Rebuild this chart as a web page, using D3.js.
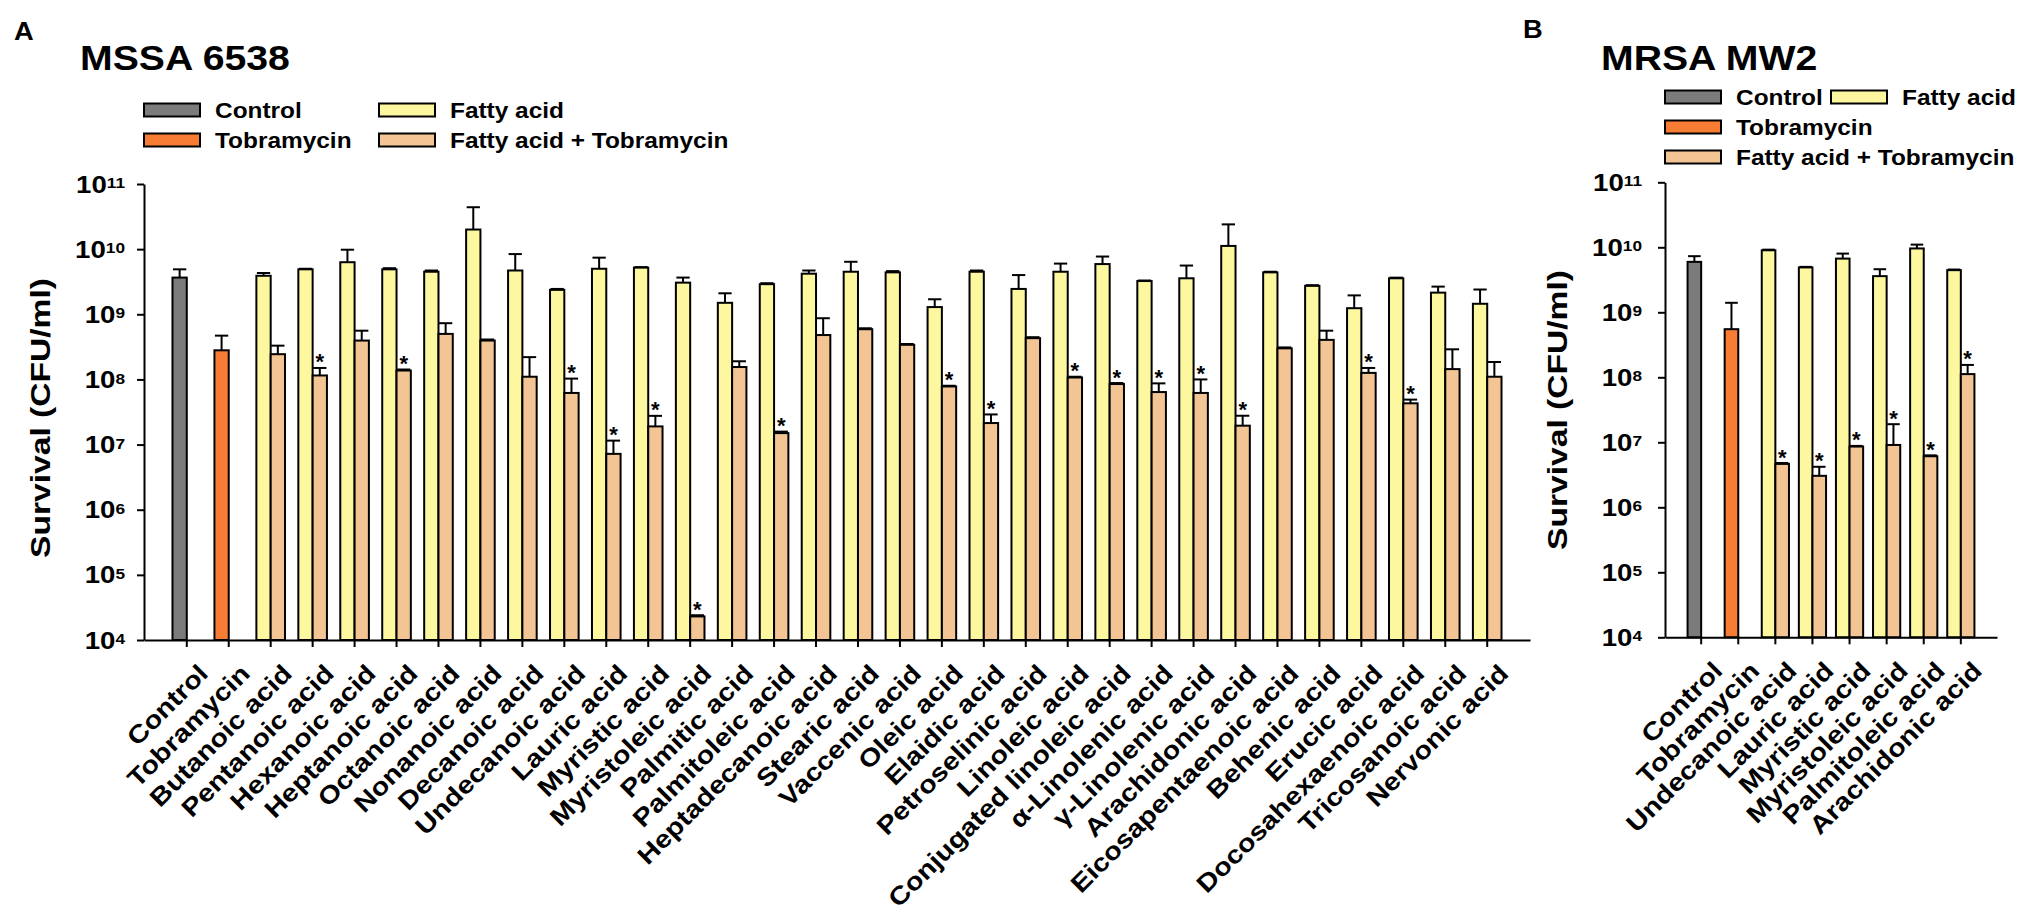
<!DOCTYPE html>
<html><head><meta charset="utf-8">
<script src="https://cdn.jsdelivr.net/npm/d3@7"></script>
<style>
body{margin:0;background:#fff}
svg{display:block}
text{font-family:"Liberation Sans",Arial,Helvetica,sans-serif;font-weight:bold;fill:#000}
</style>
</head><body>
<svg id="chart" width="2033" height="921"></svg>
<script>
// ---------------- DATA ----------------
const singleNames = ["Control", "Tobramycin"];
const legendLabels = ["Control", "Tobramycin", "Fatty acid", "Fatty acid + Tobramycin"];
const tickExponents = [4, 5, 6, 7, 8, 9, 10, 11];

// Panel A : MSSA 6538
const fattyAcidsA = ["Butanoic acid","Pentanoic acid","Hexanoic acid","Heptanoic acid","Octanoic acid",
  "Nonanoic acid","Decanoic acid","Undecanoic acid","Lauric acid","Myristic acid","Myristoleic acid",
  "Palmitic acid","Palmitoleic acid","Heptadecanoic acid","Stearic acid","Vaccenic acid","Oleic acid",
  "Elaidic acid","Petroselinic acid","Linoleic acid","Conjugated linoleic acid","\u03b1-Linolenic acid",
  "\u03b3-Linolenic acid","Arachidonic acid","Eicosapentaenoic acid","Behenic acid","Erucic acid",
  "Docosahexaenoic acid","Tricosanoic acid","Nervonic acid"];
const singleMeanA  = [3.66e9, 2.8e8];
const singleUpperA = [4.9e9, 4.7e8];
const faMeanA  = [3.9e9,4.9e9,6.3e9,4.9e9,4.5e9,2.0e10,4.7e9,2.37e9,5.0e9,5.2e9,3.06e9,
  1.5e9,2.9e9,4.2e9,4.5e9,4.4e9,1.29e9,4.5e9,2.45e9,4.5e9,5.9e9,3.24e9,3.57e9,1.12e10,
  4.4e9,2.73e9,1.24e9,3.57e9,2.15e9,1.45e9];
const faUpperA = [4.3e9,5.0e9,9.8e9,5.1e9,4.7e9,4.4e10,8.4e9,2.45e9,7.4e9,5.3e9,3.66e9,
  2.1e9,3.0e9,4.7e9,6.4e9,4.6e9,1.7e9,4.7e9,4.0e9,6.0e9,7.7e9,3.3e9,5.6e9,2.4e10,
  4.5e9,2.8e9,1.95e9,3.65e9,2.66e9,2.4e9];
const faTobMeanA  = [2.44e8,1.15e8,3.95e8,1.37e8,5.0e8,3.95e8,1.1e8,6.2e7,7.2e6,1.9e7,2.3e4,
  1.55e8,1.5e7,4.8e8,5.9e8,3.4e8,7.8e7,2.14e7,4.3e8,1.07e8,8.5e7,6.4e7,6.2e7,1.95e7,
  3.0e8,4.05e8,1.26e8,4.3e7,1.44e8,1.1e8];
const faTobUpperA = [3.3e8,1.5e8,5.6e8,1.42e8,7.3e8,4.1e8,2.2e8,1.03e8,1.15e7,2.76e7,2.4e4,
  1.9e8,1.58e7,8.7e8,6.1e8,3.5e8,8.0e7,2.9e7,4.45e8,1.1e8,8.8e7,8.7e7,1.0e8,2.77e7,
  3.1e8,5.6e8,1.5e8,4.9e7,2.9e8,1.85e8];
const faTobSigA = [0,1,0,1,0,0,0,1,1,1,1,0,1,0,0,0,1,1,0,1,1,1,1,1,0,0,1,1,0,0];

// Panel B : MRSA MW2
const fattyAcidsB = ["Undecanoic acid","Lauric acid","Myristic acid","Myristoleic acid","Palmitoleic acid","Arachidonic acid"];
const singleMeanB  = [5.97e9, 5.5e8];
const singleUpperB = [7.3e9, 1.4e9];
const faMeanB  = [9.0e9, 4.9e9, 6.7e9, 3.6e9, 9.6e9, 4.45e9];
const faUpperB = [9.2e9, 5.0e9, 8.0e9, 4.6e9, 1.1e10, 4.55e9];
const faTobMeanB  = [4.65e6, 3.05e6, 8.6e6, 9.1e6, 6.1e6, 1.12e8];
const faTobUpperB = [4.8e6, 4.2e6, 8.8e6, 1.9e7, 6.3e6, 1.55e8];
const faTobSigB = [1,1,1,1,1,1];

// ---------------- STYLE ----------------
const COLORS = {control:"#7b7b7b", tob:"#f67d33", fa:"#fdf8a0", faTob:"#f4c594"};
const singleColors = [COLORS.control, COLORS.tob];
const legendColors = [COLORS.control, COLORS.tob, COLORS.fa, COLORS.faTob];

const svg = d3.select("#chart");

function stretchedText(g, x, y, str, size, opts = {}) {
  const sx = opts.sx || 1, rot = opts.rot || 0;
  return g.append("text")
    .attr("transform", `translate(${x},${y}) rotate(${rot}) scale(${sx},1)`)
    .attr("text-anchor", opts.anchor || "start")
    .attr("font-size", size)
    .text(str);
}

function drawPanel(cfg) {
  const g = svg.append("g");
  const cats = singleNames.concat(cfg.fattyAcids);
  const x = d3.scaleBand().domain(cats).range(cfg.xRange).paddingInner(0).paddingOuter(cfg.padOuter);
  const y = d3.scaleLog().domain([1e4, 1e11]).range(cfg.yRange);
  const barW = cfg.barW;
  const center = c => x(c) + x.bandwidth() / 2;
  const base = y(1e4);

  const recs = [];
  singleNames.forEach((c, i) => recs.push({cat:c, slot:0, mean:cfg.singleMean[i], upper:cfg.singleUpper[i], color:singleColors[i], sig:0}));
  cfg.fattyAcids.forEach((c, i) => {
    recs.push({cat:c, slot:0, mean:cfg.faMean[i], upper:cfg.faUpper[i], color:COLORS.fa, sig:0});
    recs.push({cat:c, slot:1, mean:cfg.faTobMean[i], upper:cfg.faTobUpper[i], color:COLORS.faTob, sig:cfg.faTobSig[i]});
  });
  const bx = d => center(d.cat) - barW + d.slot * barW;

  const eb = g.append("g").attr("stroke", "#000").attr("stroke-width", 2).attr("fill", "none");
  recs.forEach(d => {
    const cx = bx(d) + barW / 2;
    eb.append("line").attr("x1", cx).attr("x2", cx).attr("y1", y(d.mean)).attr("y2", y(d.upper));
    eb.append("line").attr("x1", cx - barW / 2 + 0.5).attr("x2", cx + barW / 2 - 0.5).attr("y1", y(d.upper)).attr("y2", y(d.upper));
  });

  g.append("g").selectAll("rect").data(recs).join("rect")
    .attr("x", d => bx(d)).attr("width", barW)
    .attr("y", d => y(d.mean)).attr("height", d => base - y(d.mean))
    .attr("fill", d => d.color).attr("stroke", "#000").attr("stroke-width", 2);

  recs.filter(d => d.sig).forEach(d => {
    g.append("text").attr("x", bx(d) + barW / 2).attr("y", y(d.upper) + 1.5)
      .attr("text-anchor", "middle").attr("font-size", 22).text("*");
  });

  const yAxis = d3.axisLeft(y).tickValues(tickExponents.map(e => Math.pow(10, e)))
    .tickSize(7).tickSizeOuter(0).tickFormat("");
  const ya = g.append("g").attr("transform", `translate(${cfg.xRange[0]},0)`).call(yAxis);
  const xAxis = d3.axisBottom(x).tickSize(7).tickSizeOuter(0).tickFormat("");
  const xa = g.append("g").attr("transform", `translate(0,${base})`).call(xAxis);
  [ya, xa].forEach(a => {
    a.selectAll("path,line").attr("stroke", "#000").attr("stroke-width", 2);
  });

  tickExponents.forEach(e => {
    const t = g.append("text")
      .attr("transform", `translate(${cfg.xRange[0] - cfg.tickLabelGap},${y(Math.pow(10, e)) + 8.6}) scale(1.15,1)`)
      .attr("text-anchor", "end").attr("font-size", 24);
    t.append("tspan").text("10");
    t.append("tspan").attr("font-size", 15).attr("dy", -4.5).text(e);
  });

  cats.forEach(c => {
    stretchedText(g, center(c) + 22.7, base + 35, c, 25, {rot:-45, sx:1.15, anchor:"end"});
  });

  stretchedText(g, cfg.yTitleX, cfg.yTitleY, "Survival (CFU/ml)", 28, {rot:-90, sx:1.2, anchor:"middle"});

  stretchedText(g, cfg.letterX, cfg.letterY, cfg.letter, 26, {sx:1.05});
  stretchedText(g, cfg.titleX, 70, cfg.title, 35, {sx:1.12});

  cfg.legendPos.forEach((p, i) => {
    g.append("rect").attr("x", p[0]).attr("y", p[1] - 6.5).attr("width", 56).attr("height", 13)
      .attr("fill", legendColors[i]).attr("stroke", "#000").attr("stroke-width", 2);
    stretchedText(g, p[0] + 71, p[1] + 8, legendLabels[i], 22, {sx:1.11});
  });
}

drawPanel({
  fattyAcids: fattyAcidsA, singleMean: singleMeanA, singleUpper: singleUpperA,
  faMean: faMeanA, faUpper: faUpperA, faTobMean: faTobMeanA, faTobUpper: faTobUpperA, faTobSig: faTobSigA,
  xRange: [144, 1530], padOuter: 0.52, yRange: [640, 184], barW: 14.3, tickLabelGap: 19,
  yTitleX: 50, yTitleY: 418, letter: "A", letterX: 14, letterY: 40, title: "MSSA 6538", titleX: 80,
  legendPos: [[144,110],[144,140],[379,110],[379,140]]
});
drawPanel({
  fattyAcids: fattyAcidsB, singleMean: singleMeanB, singleUpper: singleUpperB,
  faMean: faMeanB, faUpper: faUpperB, faTobMean: faTobMeanB, faTobUpper: faTobUpperB, faTobSig: faTobSigB,
  xRange: [1665, 1997], padOuter: 0.475, yRange: [637.3, 182.3], barW: 13.6, tickLabelGap: 23,
  yTitleX: 1567, yTitleY: 410, letter: "B", letterX: 1523, letterY: 38, title: "MRSA MW2", titleX: 1601,
  legendPos: [[1665,97],[1665,127],[1831,97],[1665,157]]
});
</script>
</body></html>
